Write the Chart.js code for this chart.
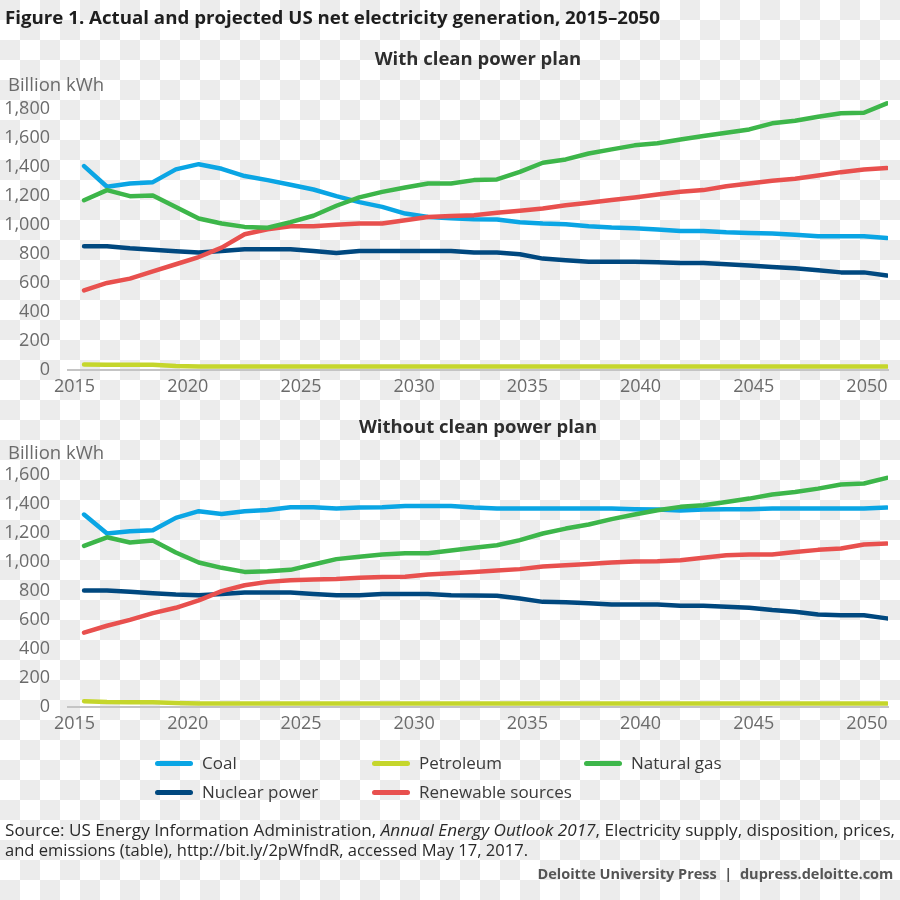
<!DOCTYPE html>
<html><head><meta charset="utf-8">
<script src="https://cdn.jsdelivr.net/npm/chart.js@4.4.1/dist/chart.umd.min.js"></script>
<style>
html,body{margin:0;padding:0}
body{width:900px;height:900px;position:relative;overflow:hidden;background:#fff;
 font-family:'Open Sans',sans-serif}
#bg{position:absolute;left:0;top:0}
.t{position:absolute;white-space:nowrap;line-height:22px}
#title{left:5px;top:6px;font-weight:700;font-size:18.5px;color:#1e1e1e;transform-origin:0 50%}
.sub{font-weight:700;font-size:18.5px;color:#2e2e2e;transform:translateX(-50%)}
.unit{font-size:18.5px;color:#6b6b6b;left:8px}
.cw{position:absolute;left:0}
.lg{position:absolute;font-size:17px;color:#3a3a3a;line-height:22px;white-space:nowrap}
.sw{position:absolute;width:38px;height:5px;border-radius:3px}
.src{font-size:16px;color:#2a2a2a;transform-origin:0 50%;left:5px}
#credit{font-size:15px;font-weight:700;color:#555;transform-origin:100% 50%;right:7px;top:862px}
</style></head>
<body>
<canvas id="bg" width="900" height="900"></canvas>
<div class="t" id="title">Figure 1. Actual and projected US net electricity generation, 2015–2050</div>
<div class="t sub" style="left:478px;top:47px">With clean power plan</div>
<div class="t unit" style="top:73px">Billion kWh</div>
<div class="cw" id="w1" style="top:70px"><canvas id="c1" width="900" height="330"></canvas></div>
<div class="t sub" style="left:478px;top:415px">Without clean power plan</div>
<div class="t unit" style="top:441px">Billion kWh</div>
<div class="cw" id="w2" style="top:436px"><canvas id="c2" width="900" height="300"></canvas></div>
<div id="legend"></div>
<div class="t src" id="s1" style="top:819px">Source: US Energy Information Administration, <i>Annual Energy Outlook 2017</i>, Electricity supply, disposition, prices,</div>
<div class="t src" id="s2" style="top:839px">and emissions (table), http://bit.ly/2pWfndR, accessed May 17, 2017.</div>
<div class="t" id="credit">Deloitte University Press &nbsp;|&nbsp; dupress.deloitte.com</div>
<script>
// ---- data ----
const years = [2015,2016,2017,2018,2019,2020,2021,2022,2023,2024,2025,2026,2027,2028,2029,2030,2031,2032,2033,2034,2035,2036,2037,2038,2039,2040,2041,2042,2043,2044,2045,2046,2047,2048,2049,2050];
const tickYears = [2015,2020,2025,2030,2035,2040,2045,2050];
const yTicksTop = [0,200,400,600,800,1000,1200,1400,1600,1800];
const yTicksBottom = [0,200,400,600,800,1000,1200,1400,1600];
const seriesNames = ['Coal','Petroleum','Natural gas','Nuclear power','Renewable sources'];
const seriesColors = ['#0aa5e4','#c5d62c','#3db64a','#00487f','#e8504e'];

// With clean power plan
const coalWith = [1408,1265,1288,1297,1385,1421,1389,1339,1311,1279,1246,1200,1159,1126,1080,1057,1048,1040,1039,1020,1011,1007,993,983,979,970,960,960,951,946,942,933,923,923,923,912];
const petroleumWith = [38,37,37,37,28,24,24,24,24,24,24,24,24,24,24,24,24,24,24,24,24,24,24,24,24,24,24,24,24,24,24,24,24,24,24,24];
const gasWith = [1172,1242,1200,1205,1126,1046,1011,988,982,1021,1065,1134,1192,1230,1260,1288,1288,1311,1316,1368,1431,1454,1495,1523,1551,1565,1592,1615,1638,1661,1703,1721,1749,1772,1776,1841];
const nuclearWith = [854,854,840,831,820,811,822,834,834,834,822,808,822,822,822,822,822,811,812,799,769,757,748,748,748,744,739,739,730,721,711,702,688,674,674,652];
const renewWith = [550,601,631,681,730,780,845,937,972,993,993,1002,1011,1011,1034,1057,1064,1069,1085,1099,1115,1138,1154,1173,1191,1212,1230,1242,1269,1288,1306,1320,1343,1366,1385,1394];

// Without clean power plan
const coalWithout = [1329,1198,1214,1221,1306,1352,1333,1352,1361,1379,1379,1370,1377,1379,1388,1388,1388,1377,1370,1370,1370,1370,1370,1370,1366,1363,1356,1363,1366,1366,1370,1370,1370,1370,1370,1377];
const petroleumWithout = [40,34,33,33,27,24,24,24,24,24,24,24,24,24,24,24,24,24,24,24,24,24,24,24,24,24,24,24,24,24,24,24,24,24,24,24];
const gasWithout = [1113,1172,1136,1149,1067,998,961,933,938,947,984,1021,1037,1053,1062,1062,1081,1100,1117,1152,1198,1232,1260,1297,1329,1359,1382,1393,1416,1439,1467,1485,1508,1536,1543,1582];
const nuclearWithout = [805,805,795,786,777,772,781,791,791,791,781,772,772,781,781,781,772,770,768,749,726,724,717,708,708,708,699,699,692,685,669,657,639,634,634,612];
const renewWithout = [513,561,602,648,685,736,800,841,864,876,880,883,892,897,899,915,924,933,943,952,970,979,988,998,1005,1007,1014,1030,1048,1053,1053,1071,1085,1094,1122,1129];

// ---- page background: transparency checkerboard as in the reference image ----
(function(){
  const c = document.getElementById('bg').getContext('2d');
  c.fillStyle = '#ffffff'; c.fillRect(0,0,900,900);
  c.fillStyle = '#ececec';
  for (let r=0; r<45; r++) for (let k=0; k<45; k++) if ((r+k)%2===0) c.fillRect(k*20, r*20, 20, 20);
})();

// ---- drawing ----
const drawOrder = [2,4,0,3,1];
const FONT = {family:"'Open Sans', sans-serif", size:18};

function makeChart(cv, seriesList, yMax, yTicks){
  const datasets = seriesList.map((vals,i)=>({
    label: seriesNames[i],
    data: years.map((yr,j)=>({x:yr, y:vals[j]})),
    borderColor: seriesColors[i],
    backgroundColor: seriesColors[i],
    borderWidth: 4.5,
    pointRadius: 0,
    tension: 0,
    fill: false,
    borderJoinStyle: 'round',
    borderCapStyle: 'round',
    order: drawOrder[i],
    xAxisID: 'x', yAxisID: 'y'
  }));
  return new Chart(cv, {
    type: 'line',
    data: {datasets},
    options: {
      responsive: false,
      maintainAspectRatio: false,
      animation: false,
      events: [],
      layout: {padding: {top:0, right:12, left:0, bottom:0}},
      plugins: {legend: {display:false}, tooltip: {enabled:false}},
      scales: {
        x: {type:'linear', min:2014.30, max:2050.05, display:false},
        x2: {type:'linear', position:'bottom', min:2014.71, max:2050.93,
          grid:{display:false, drawTicks:false},
          border:{display:true, color:'#c4c4c4', width:2},
          ticks:{color:'#6b6b6b', font:FONT, padding:6, autoSkip:false, maxRotation:0, callback:v=>String(v)},
          afterBuildTicks: s => { s.ticks = tickYears.map(v=>({value:v})); },
          afterFit: s => { s.height = 30; }
        },
        y: {type:'linear', min:0, max:yMax,
          grid:{display:false, drawTicks:false},
          border:{display:false},
          ticks:{color:'#6b6b6b', font:FONT, padding:18, callback:v=>Number(v).toLocaleString('en-US')},
          afterBuildTicks: s => { s.ticks = yTicks.map(v=>({value:v})); },
          afterFit: s => { s.width = 68; }
        }
      }
    }
  });
}

// place a chart so that value 0 sits at zeroPx and yMax at topPx (page pixels)
function build(id, wrapId, series, yMax, yTicks, zeroPx, topPx){
  const cv = document.getElementById(id);
  let ch = makeChart(cv, series, yMax, yTicks);
  const a = ch.chartArea.top, b = ch.height - ch.chartArea.bottom;
  ch.destroy();
  const H = Math.round(a + (zeroPx - topPx) + b);
  cv.width = 900; cv.height = H; cv.style.width='900px'; cv.style.height=H+'px';
  ch = makeChart(cv, series, yMax, yTicks);
  document.getElementById(wrapId).style.top = Math.round(zeroPx - ch.chartArea.bottom) + 'px';
}

const pxPerUnit = 0.1446;
build('c1','w1',[coalWith, petroleumWith, gasWith, nuclearWith, renewWith], 1900, yTicksTop, 369.5, 369.5 - 1900*pxPerUnit);
build('c2','w2',[coalWithout, petroleumWithout, gasWithout, nuclearWithout, renewWithout], 1700, yTicksBottom, 707, 707 - 1700*pxPerUnit);

// legend (HTML, built from the series arrays)
const legendPos = [[155,763],[372,763],[584,763],[155,792],[372,792]];
const lg = document.getElementById('legend');
seriesNames.forEach((n,i)=>{
  const sw = document.createElement('div');
  sw.className='sw'; sw.style.background=seriesColors[i];
  sw.style.left=legendPos[i][0]+'px'; sw.style.top=(legendPos[i][1]-2)+'px';
  lg.appendChild(sw);
  const tx = document.createElement('div');
  tx.className='lg'; tx.textContent=n;
  tx.style.left=(legendPos[i][0]+47)+'px'; tx.style.top=(legendPos[i][1]-11)+'px';
  lg.appendChild(tx);
});

function fit(id, target){
  const el=document.getElementById(id);
  const w=el.getBoundingClientRect().width;
  el.style.transform='scaleX('+(target/w)+')';
}
fit('title', 655); fit('s1', 890); fit('s2', 523); fit('credit', 356);
</script>
</body></html>
